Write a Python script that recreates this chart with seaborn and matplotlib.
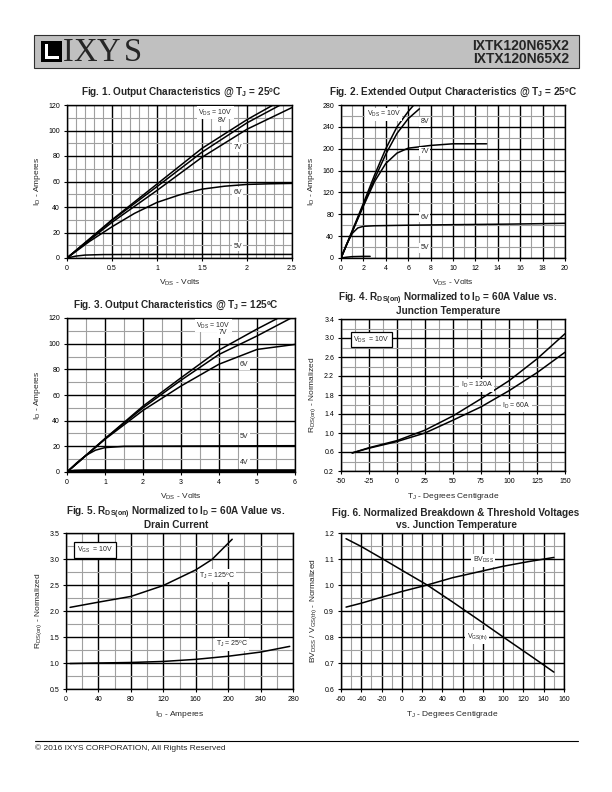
import numpy as np
import pandas as pd
import seaborn as sns
import matplotlib
matplotlib.use("Agg")
import matplotlib.pyplot as plt
from matplotlib.ticker import MultipleLocator, FixedLocator, FuncFormatter
from matplotlib.patches import Rectangle

sns.set_style("white")
plt.rcParams["font.family"] = ["Liberation Sans", "DejaVu Sans"]
plt.rcParams["mathtext.default"] = "regular"

NARROW = ["Liberation Sans Narrow", "Liberation Sans", "DejaVu Sans"]

# ---- Fig 1: output characteristics @ 25C (Vds, Id)
f1_10v_x = [0, 0.5, 1.0, 1.5, 2.0, 2.29]
f1_10v_y = [0, 30, 58, 86, 108.5, 120]
f1_8v_x = [0, 0.5, 1.0, 1.5, 2.0, 2.37]
f1_8v_y = [0, 29.5, 56, 83, 106, 120]
f1_7v_x = [0, 0.5, 1.0, 1.5, 2.0, 2.5]
f1_7v_y = [0, 28, 53, 79, 101, 118]
f1_6v_x = [0, 0.25, 0.5, 0.75, 1.0, 1.25, 1.5, 1.75, 2.0, 2.25, 2.5]
f1_6v_y = [0, 13, 24.5, 35, 43.6, 49.5, 54, 56.3, 57.7, 58.2, 58.5]
f1_5v_x = [0, 0.1, 0.2, 0.4, 1.0, 2.5]
f1_5v_y = [0, 1.5, 2.3, 2.7, 2.8, 2.8]

# ---- Fig 2: extended output characteristics @ 25C
f2_10v_x = [0, 1, 2, 3, 4, 5, 6, 6.5]
f2_10v_y = [0, 50, 100, 152, 200, 240, 268, 280]
f2_8v_x = [0, 1, 2, 3, 4, 5, 6, 7]
f2_8v_y = [0, 48, 97, 145, 190, 228, 255, 273]
f2_7v_x = [0, 1, 2, 3, 4, 5, 6, 8, 10, 13]
f2_7v_y = [0, 48, 95, 140, 173, 192, 201, 206, 209, 209]
f2_6v_x = [0, 0.5, 1, 1.5, 2, 3, 6, 10, 15, 20]
f2_6v_y = [0, 25, 45, 55, 58, 59, 60, 61, 62, 63.5]
f2_5v_x = [0, 0.5, 1, 2, 2.6]
f2_5v_y = [0, 1.5, 2.5, 3, 3]

# ---- Fig 3: output characteristics @ 125C
f3_10v_x = [0, 1, 2, 3, 4, 5, 5.56]
f3_10v_y = [0, 26, 51.3, 73.4, 95, 111.4, 120]
f3_7v_x = [0, 1, 2, 3, 4, 5, 5.9]
f3_7v_y = [0, 26, 50, 71.5, 91.6, 106, 120]
f3_6v_x = [0, 1, 2, 3, 4, 5, 6]
f3_6v_y = [0, 25.5, 48, 67, 84, 95.5, 99.4]
f3_5v_x = [0, 0.25, 0.5, 0.75, 1, 1.5, 3, 6]
f3_5v_y = [0, 7, 13, 17, 19, 20, 20.2, 20.5]
f3_4v_x = [0, 0.2, 0.5, 6]
f3_4v_y = [0, 0.8, 1, 1]

# ---- Fig 4: Rds(on) vs junction temperature
f4_temp = [-40, -25, 0, 25, 50, 75, 100, 125, 150]
f4_120a = [0.58, 0.69, 0.84, 1.06, 1.36, 1.72, 2.1, 2.56, 3.09]
f4_60a = [0.58, 0.68, 0.82, 1.0, 1.27, 1.55, 1.89, 2.27, 2.7]

# ---- Fig 5: Rds(on) vs drain current
f5_125_x = [5, 40, 80, 120, 160, 180, 205]
f5_125_y = [2.07, 2.17, 2.28, 2.49, 2.79, 2.99, 3.38]
f5_25_x = [5, 40, 80, 120, 160, 200, 240, 276]
f5_25_y = [0.99, 1.0, 1.01, 1.03, 1.07, 1.13, 1.21, 1.32]

# ---- Fig 6: normalized BVdss / Vgs(th) vs temperature
f6_temp = [-55, -40, -20, 0, 25, 50, 75, 100, 125, 150]
f6_bvdss = [0.915, 0.93, 0.953, 0.975, 1.0, 1.028, 1.05, 1.072, 1.09, 1.106]
f6_vgsth = [1.178, 1.148, 1.103, 1.057, 1.0, 0.935, 0.868, 0.8, 0.733, 0.665]

fig = plt.figure(figsize=(6.12, 7.92), dpi=100)


def fx(px):
    return px / 612


def fy(py):
    return 1 - py / 792


def fig_ax(px_left, px_top, px_right, px_bottom):
    return fig.add_axes([fx(px_left), fy(px_bottom),
                         (px_right - px_left) / 612, (px_bottom - px_top) / 792])


def style(ax, xlim, ylim, xmaj, xmin, ymaj, ymin, xfmt="%g", yfmt="%g"):
    ax.set_xlim(*xlim)
    ax.set_ylim(*ylim)
    ax.xaxis.set_major_locator(FixedLocator(np.arange(xlim[0], xlim[1] + 1e-9, xmaj)))
    ax.xaxis.set_minor_locator(MultipleLocator(xmin))
    ax.yaxis.set_major_locator(FixedLocator(np.arange(ylim[0], ylim[1] + 1e-9, ymaj)))
    ax.yaxis.set_minor_locator(MultipleLocator(ymin))
    ax.xaxis.set_major_formatter(FuncFormatter(lambda v, p: xfmt % v))
    ax.yaxis.set_major_formatter(FuncFormatter(lambda v, p: yfmt % v))
    ax.grid(which="minor", color="#a0a0a0", lw=0.8)
    ax.grid(which="major", color="black", lw=1.0)
    ax.set_axisbelow(True)
    ax.tick_params(which="major", direction="out", length=2, width=0.8,
                   labelsize=5, pad=3, colors="black", bottom=True, left=True)
    ax.tick_params(which="minor", length=0)
    for s in ax.spines.values():
        s.set_color("black")
        s.set_linewidth(1.0)


def curve(ax, x, y, lw=1.1):
    sns.lineplot(x=x, y=y, ax=ax, color="black", lw=lw, sort=False,
                 estimator=None, zorder=3)


def label(ax, x, y, s, box=False, size=5):
    bb = dict(facecolor="white", edgecolor="black" if box else "none",
              pad=2 if box else 1, lw=0.9)
    ax.text(x, y, s, fontsize=size, ha="left", va="center", bbox=bb, zorder=4)


def title(cx, lines):
    for py, s in lines:
        fig.text(fx(cx), fy(py), s, fontsize=7.2, fontweight="bold",
                 family=NARROW, ha="center", va="center")


# Fig 1
ax1 = fig_ax(67, 105, 292, 258)
style(ax1, (0, 2.5), (0, 120), 0.5, 0.1, 20, 10)
for x, y in [(f1_10v_x, f1_10v_y), (f1_8v_x, f1_8v_y), (f1_7v_x, f1_7v_y),
             (f1_6v_x, f1_6v_y), (f1_5v_x, f1_5v_y)]:
    curve(ax1, x, y)
label(ax1, 1.46, 114, "V$_{DS}$ = 10V")
label(ax1, 1.68, 107.5, "8V")
label(ax1, 1.85, 87, "7V")
label(ax1, 1.85, 51.7, "6V")
label(ax1, 1.85, 9, "5V")
title(181, [(92, "Fig. 1. Output Characteristics @ T$_J$ = 25ºC")])
ax1.set_xlabel("V$_{DS}$ - Volts", fontsize=6)
ax1.set_ylabel("I$_D$ - Amperes", fontsize=6)

# Fig 2
ax2 = fig_ax(341, 105, 565, 258)
style(ax2, (0, 20), (0, 280), 2, 1, 40, 20)
for x, y in [(f2_10v_x, f2_10v_y), (f2_8v_x, f2_8v_y), (f2_7v_x, f2_7v_y),
             (f2_6v_x, f2_6v_y), (f2_5v_x, f2_5v_y)]:
    curve(ax2, x, y)
label(ax2, 2.3, 263, "V$_{DS}$ = 10V")
label(ax2, 7.1, 249, "8V")
label(ax2, 7.1, 195, "7V")
label(ax2, 7.1, 75, "6V")
label(ax2, 7.1, 19, "5V")
title(453, [(92, "Fig. 2. Extended Output Characteristics @ T$_J$ = 25ºC")])
ax2.set_xlabel("V$_{DS}$ - Volts", fontsize=6)
ax2.set_ylabel("I$_D$ - Amperes", fontsize=6)

# Fig 3
ax3 = fig_ax(67, 318, 295, 472)
style(ax3, (0, 6), (0, 120), 1, 0.5, 20, 10)
for x, y in [(f3_10v_x, f3_10v_y), (f3_7v_x, f3_7v_y), (f3_6v_x, f3_6v_y),
             (f3_5v_x, f3_5v_y)]:
    curve(ax3, x, y)
curve(ax3, f3_4v_x, f3_4v_y, lw=2.2)
label(ax3, 3.4, 114, "V$_{DS}$ = 10V")
label(ax3, 3.98, 108.5, "7V")
label(ax3, 4.55, 83.5, "6V")
label(ax3, 4.55, 28, "5V")
label(ax3, 4.55, 7.3, "4V")
title(176, [(305, "Fig. 3. Output Characteristics @ T$_J$ = 125ºC")])
ax3.set_xlabel("V$_{DS}$ - Volts", fontsize=6)
ax3.set_ylabel("I$_D$ - Amperes", fontsize=6)

# Fig 4
ax4 = fig_ax(341, 319, 565, 471)
style(ax4, (-50, 150), (0.2, 3.4), 25, 12.5, 0.4, 0.2, yfmt="%.1f")
curve(ax4, f4_temp, f4_120a)
curve(ax4, f4_temp, f4_60a)
label(ax4, -39, 2.97, "V$_{DS}$  = 10V", box=True)
label(ax4, 57, 2.01, "I$_D$ = 120A")
label(ax4, 94, 1.58, "I$_D$ = 60A")
title(448, [(298.5, "Fig. 4. R$_{DS(on)}$ Normalized to I$_D$ = 60A Value vs."),
            (311, "Junction Temperature")])
ax4.set_xlabel("T$_J$ - Degrees Centigrade", fontsize=6)
ax4.set_ylabel("R$_{DS(on)}$ - Normalized", fontsize=6)

# Fig 5
ax5 = fig_ax(66, 533, 293, 689)
style(ax5, (0, 280), (0.5, 3.5), 40, 20, 0.5, 0.25, yfmt="%.1f")
curve(ax5, f5_125_x, f5_125_y)
curve(ax5, f5_25_x, f5_25_y)
label(ax5, 13, 3.17, "V$_{GS}$  = 10V", box=True)
label(ax5, 164, 2.68, "T$_J$ = 125ºC")
label(ax5, 185, 1.36, "T$_J$ = 25ºC")
title(176, [(513, "Fig. 5. R$_{DS(on)}$ Normalized to I$_D$ = 60A Value vs."),
            (525.5, "Drain Current")])
ax5.set_xlabel("I$_D$ - Amperes", fontsize=6)
ax5.set_ylabel("R$_{DS(on)}$ - Normalized", fontsize=6)

# Fig 6
ax6 = fig_ax(341, 533, 564, 689)
style(ax6, (-60, 160), (0.6, 1.2), 20, 10, 0.1, 0.05, yfmt="%.1f")
curve(ax6, f6_temp, f6_bvdss)
curve(ax6, f6_temp, f6_vgsth)
label(ax6, 70, 1.095, "BV$_{DSS}$")
label(ax6, 64, 0.80, "V$_{GS(th)}$")
title(456, [(513.5, "Fig. 6. Normalized Breakdown & Threshold Voltages"),
            (525, "vs. Junction Temperature")])
ax6.set_xlabel("T$_J$ - Degrees Centigrade", fontsize=6)
ax6.set_ylabel("BV$_{DSS}$ / V$_{GS(th)}$ - Normalized", fontsize=6)


# header
def rect(x0, y0, x1, y1, **kw):
    fig.patches.append(Rectangle((fx(x0), fy(y1)), (x1 - x0) / 612, (y1 - y0) / 792,
                                 transform=fig.transFigure, **kw))


rect(34, 35, 579, 68, facecolor="#c0c0c0", edgecolor="#303030", lw=0.8)
rect(41, 40.5, 62, 61.5, facecolor="black", lw=0)
rect(44.5, 44, 59, 58.5, facecolor="white", lw=0)
rect(47.5, 44, 59, 56, facecolor="black", lw=0)
for px, ch in [(63, "I"), (73, "X"), (97, "Y"), (123.5, "S")]:
    fig.text(fx(px), fy(61), ch, fontsize=23.5,
             family=["Liberation Serif", "DejaVu Serif"], va="baseline", ha="left")
fig.text(fx(569), fy(46), "IXTK120N65X2", fontsize=10, fontweight="bold",
         ha="right", va="center")
fig.text(fx(569), fy(59), "IXTX120N65X2", fontsize=10, fontweight="bold",
         ha="right", va="center")

# footer
fig.add_artist(plt.Line2D([fx(35), fx(578)], [fy(741), fy(741)],
                          color="black", lw=0.8))
fig.text(fx(35), fy(748), "© 2016 IXYS CORPORATION, All Rights Reserved",
         fontsize=6, ha="left", va="center")

fig.savefig("out.png", dpi=100)
